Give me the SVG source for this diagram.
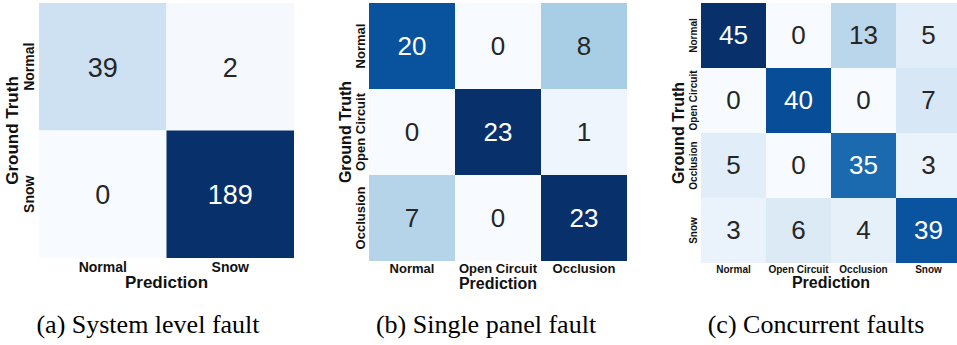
<svg xmlns="http://www.w3.org/2000/svg" width="957" height="345" viewBox="0 0 957 345">
<style>
.bg{fill:#ffffff}
.num{font-family:"Liberation Sans",Arial,sans-serif;text-anchor:middle}
.na{font-size:27px}
.nb{font-size:26px}
.dk{fill:#262626}
.lt{fill:#ffffff}
.lab{font-family:"Liberation Sans",Arial,sans-serif;font-weight:bold;fill:#111111;text-anchor:middle}
.t14{font-size:14px}
.t13{font-size:13px}
.t10{font-size:10px}
.ax{font-size:17px}
.ax16{font-size:16px}
.cap{font-family:"Liberation Serif","Times New Roman",serif;font-size:26px;fill:#000000;text-anchor:middle}
</style>
<rect class="bg" x="0" y="0" width="957" height="345"/>

<!-- Panel (a) -->
<g id="panel-a">
  <g id="a-r0c0"><rect x="39" y="3" width="127.5" height="127.5" fill="#cee1f2"/><text class="num na dk" x="102.75" y="76.5">39</text></g>
  <g id="a-r0c1"><rect x="166.5" y="3" width="127.5" height="127.5" fill="#f5f9fe"/><text class="num na dk" x="230.25" y="76.5">2</text></g>
  <g id="a-r1c0"><rect x="39" y="130.5" width="127.5" height="127.5" fill="#f7fbff"/><text class="num na dk" x="102.75" y="203.5">0</text></g>
  <g id="a-r1c1"><rect x="166.5" y="130.5" width="127.5" height="127.5" fill="#08306b"/><text class="num na lt" x="230.25" y="203.5">189</text></g>
  <text class="lab t14" transform="translate(34,66.75) rotate(-90)">Normal</text>
  <text class="lab t14" transform="translate(34,194.25) rotate(-90)">Snow</text>
  <text class="lab t14" x="102.75" y="272">Normal</text>
  <text class="lab t14" x="230.25" y="272">Snow</text>
  <text class="lab ax" x="166.5" y="288">Prediction</text>
  <text class="lab ax" transform="translate(18,130.5) rotate(-90)">Ground Truth</text>
</g>

<!-- Panel (b) -->
<g id="panel-b">
  <g id="b-r0c0"><rect x="369" y="3" width="86" height="86" fill="#09529d"/><text class="num nb lt" x="412" y="54.5">20</text></g>
  <g id="b-r0c1"><rect x="455" y="3" width="86" height="86" fill="#f7fbff"/><text class="num nb dk" x="498" y="54.5">0</text></g>
  <g id="b-r0c2"><rect x="541" y="3" width="86" height="86" fill="#a7cee4"/><text class="num nb dk" x="584" y="54.5">8</text></g>
  <g id="b-r1c0"><rect x="369" y="89" width="86" height="86" fill="#f7fbff"/><text class="num nb dk" x="412" y="140.5">0</text></g>
  <g id="b-r1c1"><rect x="455" y="89" width="86" height="86" fill="#08306b"/><text class="num nb lt" x="498" y="140.5">23</text></g>
  <g id="b-r1c2"><rect x="541" y="89" width="86" height="86" fill="#eef5fc"/><text class="num nb dk" x="584" y="140.5">1</text></g>
  <g id="b-r2c0"><rect x="369" y="175" width="86" height="86" fill="#b5d4e9"/><text class="num nb dk" x="412" y="226.5">7</text></g>
  <g id="b-r2c1"><rect x="455" y="175" width="86" height="86" fill="#f7fbff"/><text class="num nb dk" x="498" y="226.5">0</text></g>
  <g id="b-r2c2"><rect x="541" y="175" width="86" height="86" fill="#08306b"/><text class="num nb lt" x="584" y="226.5">23</text></g>
  <text class="lab t13" transform="translate(365,46) rotate(-90)">Normal</text>
  <text class="lab t13" transform="translate(365,132) rotate(-90)">Open Circuit</text>
  <text class="lab t13" transform="translate(365,218) rotate(-90)">Occlusion</text>
  <text class="lab t13" x="412" y="273">Normal</text>
  <text class="lab t13" x="498" y="273">Open Circuit</text>
  <text class="lab t13" x="584" y="273">Occlusion</text>
  <text class="lab ax16" x="498" y="289">Prediction</text>
  <text class="lab ax16" transform="translate(351,132) rotate(-90)">Ground Truth</text>
</g>

<!-- Panel (c) -->
<g id="panel-c">
  <g id="c-r0c0"><rect x="701" y="3" width="65" height="65" fill="#08306b"/><text class="num nb lt" x="733.5" y="43.5">45</text></g>
  <g id="c-r0c1"><rect x="766" y="3" width="65" height="65" fill="#f7fbff"/><text class="num nb dk" x="798.5" y="43.5">0</text></g>
  <g id="c-r0c2"><rect x="831" y="3" width="65" height="65" fill="#bad6eb"/><text class="num nb dk" x="863.5" y="43.5">13</text></g>
  <g id="c-r0c3"><rect x="896" y="3" width="65" height="65" fill="#e1edf8"/><text class="num nb dk" x="928.5" y="43.5">5</text></g>
  <g id="c-r1c0"><rect x="701" y="68" width="65" height="65" fill="#f7fbff"/><text class="num nb dk" x="733.5" y="109">0</text></g>
  <g id="c-r1c1"><rect x="766" y="68" width="65" height="65" fill="#084d97"/><text class="num nb lt" x="798.5" y="109">40</text></g>
  <g id="c-r1c2"><rect x="831" y="68" width="65" height="65" fill="#f7fbff"/><text class="num nb dk" x="863.5" y="109">0</text></g>
  <g id="c-r1c3"><rect x="896" y="68" width="65" height="65" fill="#d8e7f5"/><text class="num nb dk" x="928.5" y="109">7</text></g>
  <g id="c-r2c0"><rect x="701" y="133" width="65" height="65" fill="#e1edf8"/><text class="num nb dk" x="733.5" y="174">5</text></g>
  <g id="c-r2c1"><rect x="766" y="133" width="65" height="65" fill="#f7fbff"/><text class="num nb dk" x="798.5" y="174">0</text></g>
  <g id="c-r2c2"><rect x="831" y="133" width="65" height="65" fill="#1b6aaf"/><text class="num nb lt" x="863.5" y="174">35</text></g>
  <g id="c-r2c3"><rect x="896" y="133" width="65" height="65" fill="#eaf2fb"/><text class="num nb dk" x="928.5" y="174">3</text></g>
  <g id="c-r3c0"><rect x="701" y="198" width="65" height="65" fill="#eaf2fb"/><text class="num nb dk" x="733.5" y="239">3</text></g>
  <g id="c-r3c1"><rect x="766" y="198" width="65" height="65" fill="#dceaf6"/><text class="num nb dk" x="798.5" y="239">6</text></g>
  <g id="c-r3c2"><rect x="831" y="198" width="65" height="65" fill="#e5f0f9"/><text class="num nb dk" x="863.5" y="239">4</text></g>
  <g id="c-r3c3"><rect x="896" y="198" width="65" height="65" fill="#0a539e"/><text class="num nb lt" x="928.5" y="239">39</text></g>
  <text class="lab t10" transform="translate(697,35.5) rotate(-90)">Normal</text>
  <text class="lab t10" transform="translate(697,100.5) rotate(-90)">Open Circuit</text>
  <text class="lab t10" transform="translate(697,165.5) rotate(-90)">Occlusion</text>
  <text class="lab t10" transform="translate(697,230.5) rotate(-90)">Snow</text>
  <text class="lab t10" x="733.5" y="273">Normal</text>
  <text class="lab t10" x="798.5" y="273">Open Circuit</text>
  <text class="lab t10" x="863.5" y="273">Occlusion</text>
  <text class="lab t10" x="928.5" y="273">Snow</text>
  <text class="lab ax16" x="831" y="288">Prediction</text>
  <text class="lab ax16" transform="translate(684,133) rotate(-90)">Ground Truth</text>
</g>

<!-- Captions -->
<text class="cap" x="148" y="333">(a) System level fault</text>
<text class="cap" x="486" y="333">(b) Single panel fault</text>
<text class="cap" x="816" y="333">(c) Concurrent faults</text>
</svg>
